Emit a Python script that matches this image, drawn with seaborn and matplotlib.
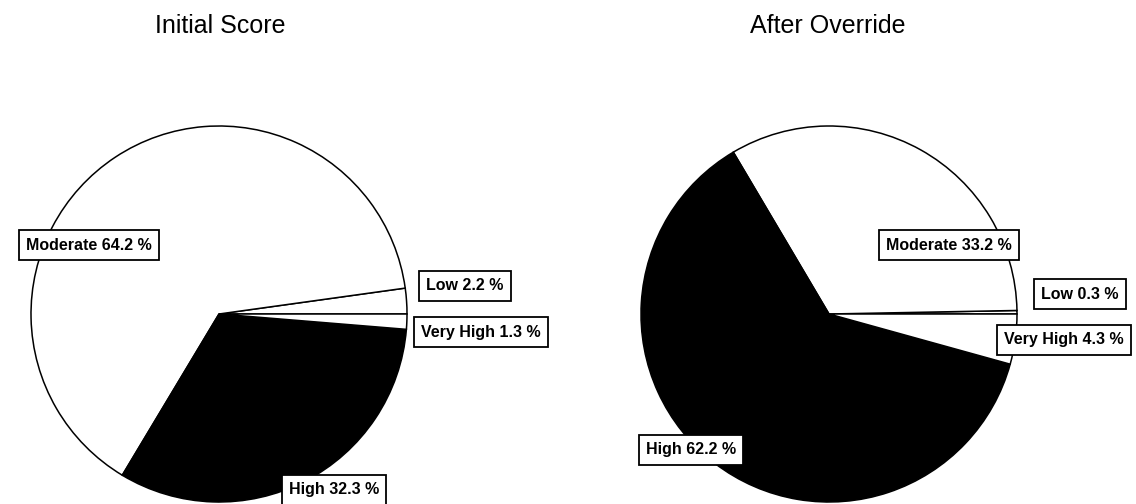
import matplotlib
matplotlib.use("Agg")
import matplotlib.pyplot as plt
import seaborn as sns

# Risk-level distribution before and after manual override (percent)
categories = ["Low", "Moderate", "High", "Very High"]
initial_pct = [2.2, 64.2, 32.3, 1.3]
override_pct = [0.3, 33.2, 62.2, 4.3]
titles = ["Initial Score", "After Override"]
slice_colors = ["white", "white", "black", "white"]

sns.set_theme(style="white")
plt.rcParams["font.family"] = ["Liberation Sans", "DejaVu Sans"]

W, H = 1136, 504
fig = plt.figure(figsize=(W / 100, H / 100), dpi=100)
fig.patch.set_facecolor("white")

# pie boxes in pixel units: left, bottom, size
pie_boxes = [(31, 2, 376), (641, 2, 376)]
# callout positions relative to each pie (unit radius)
label_pos = [
    [(1.309, 0.149), (-0.691, 0.367), (0.612, -0.936), (1.394, -0.096)],
    [(1.335, 0.106), (0.638, 0.367), (-0.734, -0.723), (1.250, -0.138)],
]
title_x = [220, 828]

for k, values in enumerate([initial_pct, override_pct]):
    x0, y0, s = pie_boxes[k]
    ax = fig.add_axes([x0 / W, y0 / H, s / W, s / H])
    ax.pie(values, colors=slice_colors, startangle=0, counterclock=True,
           radius=1.0,
           wedgeprops=dict(edgecolor="black", linewidth=1.1))
    ax.set_xlim(-1, 1)
    ax.set_ylim(-1, 1)
    ax.set_aspect("equal")
    ax.axis("off")
    for cat, v, (lx, ly) in zip(categories, values, label_pos[k]):
        ax.text(lx, ly, f"{cat} {v:.1f} %", ha="center", va="center",
                fontsize=11.5, fontweight="bold", color="black",
                clip_on=False, zorder=5,
                bbox=dict(boxstyle="square,pad=0.45", facecolor="white",
                          edgecolor="black", linewidth=1.3))
    fig.text(title_x[k] / W, 1 - 26 / H, titles[k], ha="center", va="center",
             fontsize=18, color="black")

fig.savefig("out.png", dpi=100, facecolor="white")
